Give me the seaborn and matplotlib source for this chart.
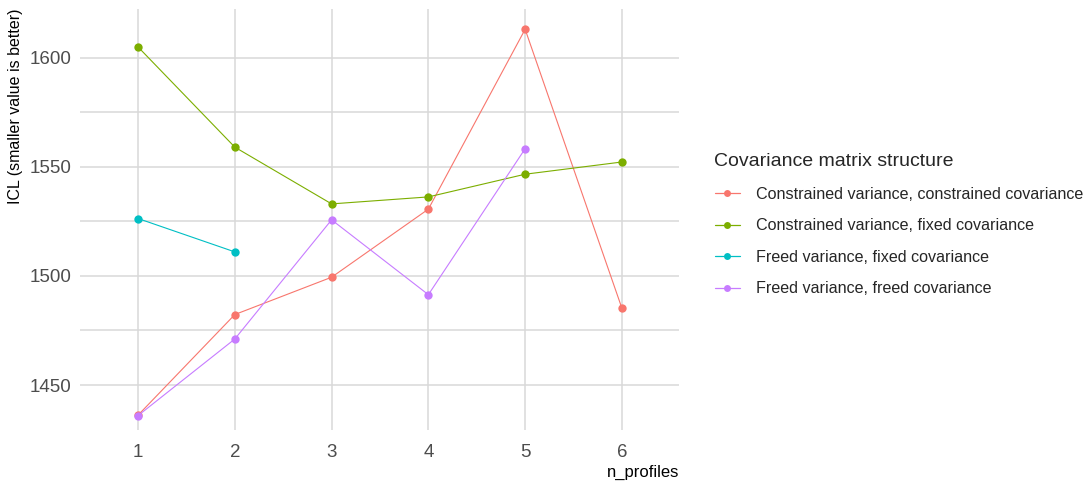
import numpy as np
import pandas as pd
import matplotlib
matplotlib.use("Agg")
import matplotlib.pyplot as plt
import seaborn as sns

n_profiles = [1, 2, 3, 4, 5, 6]
structures = [
    "Constrained variance, constrained covariance",
    "Constrained variance, fixed covariance",
    "Freed variance, fixed covariance",
    "Freed variance, freed covariance",
]
icl_cvcc = [1436.2, 1482.3, 1499.4, 1530.6, 1613.0, 1485.2]
icl_cvfc = [1604.9, 1559.0, 1533.0, 1536.2, 1546.6, 1552.2]
icl_fvfc = [1526.3, 1511.0]
icl_fvfr = [1436.0, 1471.1, 1525.7, 1491.4, 1558.3]
palette = ["#F8766D", "#7CAE00", "#00BFC4", "#C77CFF"]

rows = []
for name, vals in zip(structures, [icl_cvcc, icl_cvfc, icl_fvfc, icl_fvfr]):
    for x, v in zip(n_profiles, vals):
        rows.append({"n_profiles": x, "ICL": v, "structure": name})
df = pd.DataFrame(rows)

sns.set_theme(style="whitegrid")
plt.rcParams["font.family"] = ["Liberation Sans", "DejaVu Sans"]

fig = plt.figure(figsize=(10.89, 4.87), dpi=100)
ax = fig.add_axes([80 / 1089, 1 - 430 / 487, (679 - 80) / 1089, (430 - 9) / 487])

sns.lineplot(data=df, x="n_profiles", y="ICL", hue="structure", hue_order=structures,
             palette=palette, marker="o", markersize=6, markeredgewidth=0,
             linewidth=0.8, ax=ax, legend=False)

ax.set_xlim(0.4, 6.59)
ax.set_ylim(1429.4, 1622.3)
ax.set_xticks(n_profiles)
ax.set_yticks([1450, 1500, 1550, 1600])
ax.set_yticks([1475, 1525, 1575], minor=True)
ax.grid(True, which="major", color="#D9D9D9", linewidth=1.1)
ax.grid(True, which="minor", axis="y", color="#D9D9D9", linewidth=1.1)
ax.grid(False, which="minor", axis="x")
ax.set_facecolor("white")
for s in ax.spines.values():
    s.set_visible(False)
ax.tick_params(axis="both", which="both", length=0, labelsize=13.5, colors="#4D4D4D", pad=6)
ax.tick_params(axis="x", pad=10)
ax.set_xlabel("n_profiles", fontsize=12, color="black", loc="right", labelpad=3)
ax.set_ylabel("ICL (smaller value is better)", fontsize=11.5, color="black", labelpad=5, loc="top")

handles = [plt.Line2D([], [], color=c, marker="o", markersize=5, markeredgewidth=0, linewidth=0.9)
           for c in palette]
leg = fig.legend(handles, structures, title="Covariance matrix structure",
                 loc="upper left", bbox_to_anchor=(700 / 1089, 1 - 139 / 487),
                 frameon=False, fontsize=11.6, title_fontsize=14,
                 handlelength=1.6, labelspacing=1.02, handletextpad=1.0)
leg._legend_box.align = "left"

fig.savefig("out.png", dpi=100, facecolor="white")
